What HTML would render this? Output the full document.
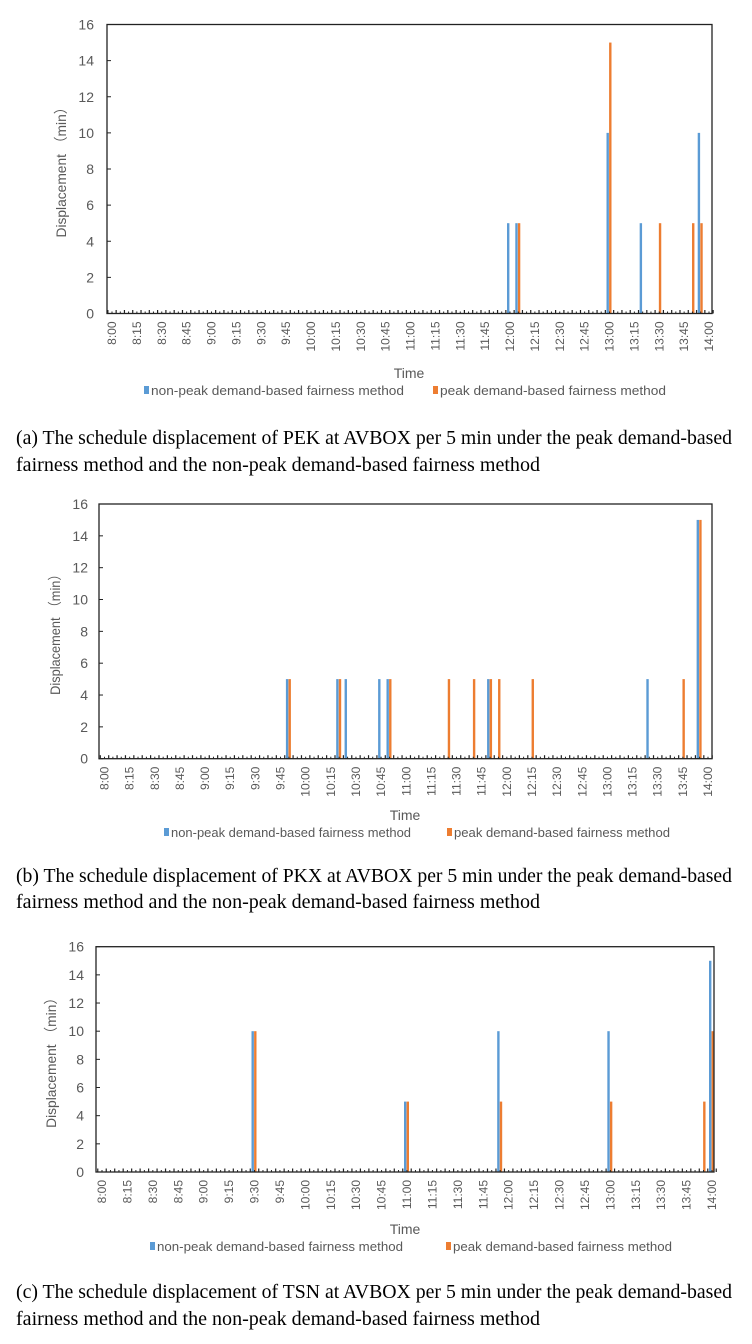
<!DOCTYPE html>
<html><head><meta charset="utf-8"><style>
html,body{margin:0;padding:0;background:#fff;}
svg{display:block;}
</style></head><body>
<svg id="s" width="752" height="1344" xmlns="http://www.w3.org/2000/svg" font-family="Liberation Sans, sans-serif">
<rect width="752" height="1344" fill="#fff"/>
<g font-family="Liberation Serif, serif" font-size="20" fill="#000">
<text x="16" y="444" textLength="716" lengthAdjust="spacingAndGlyphs">(a) The schedule displacement of PEK at AVBOX per 5 min under the peak demand-based</text>
<text x="16" y="471" textLength="524" lengthAdjust="spacingAndGlyphs">fairness method and the non-peak demand-based fairness method</text>
<text x="16" y="882" textLength="716" lengthAdjust="spacingAndGlyphs">(b) The schedule displacement of PKX at AVBOX per 5 min under the peak demand-based</text>
<text x="16" y="908" textLength="524" lengthAdjust="spacingAndGlyphs">fairness method and the non-peak demand-based fairness method</text>
<text x="16" y="1298" textLength="716" lengthAdjust="spacingAndGlyphs">(c) The schedule displacement of TSN at AVBOX per 5 min under the peak demand-based</text>
<text x="16" y="1325" textLength="524" lengthAdjust="spacingAndGlyphs">fairness method and the non-peak demand-based fairness method</text>
</g>
</svg>
<script>
(function(){
var s=document.getElementById('s'),NS='http://www.w3.org/2000/svg';
function el(t,a,txt){var e=document.createElementNS(NS,t);for(var k in a)e.setAttribute(k,a[k]);if(txt!==undefined)e.textContent=txt;s.appendChild(e);return e;}
var BLUE='#5b9bd5',OR='#ed7d31',G='#595959';
function chart(c){
  var L=c.L,R=c.R,T=c.T,B=c.B,dx=(c.x14-c.x0)/72;
  function cx(i){return c.x0+i*dx;}
  function yv(v){return B-(B-T)*v/16;}
  for(var v=0;v<=16;v+=2){
    el('text',{x:c.yl,y:yv(v)+5,'text-anchor':'end','font-size':14,fill:G},String(v));
    el('line',{x1:L,x2:L+4,y1:yv(v),y2:yv(v),stroke:'#222','stroke-width':1});
  }
  el('text',{transform:'translate('+c.yt+','+((T+B)/2)+') rotate(-90)','text-anchor':'middle','font-size':14,fill:G,textLength:c.ytl,lengthAdjust:'spacingAndGlyphs'},'Displacement \uFF08min\uFF09');
  c.blue.forEach(function(d){var x=cx(d[0]);el('rect',{x:x-3,y:yv(d[1]),width:2.4,height:B-yv(d[1]),fill:BLUE});});
  c.or.forEach(function(d){var x=cx(d[0]);el('rect',{x:x-0.4,y:yv(d[1]),width:2.4,height:B-yv(d[1]),fill:OR});});
  for(var i=0;i<=73;i++){var x=c.x0-dx/2+i*dx;el('line',{x1:x,x2:x,y1:B,y2:B-3.5,stroke:'#222','stroke-width':1.2});}
  for(var i=0;i<73;i++){var x=cx(i);el('line',{x1:x,x2:x,y1:B,y2:B-2,stroke:'#222','stroke-width':1});}
  el('rect',{x:L,y:T,width:R-L,height:B-T,fill:'none',stroke:'#222','stroke-width':1.3});
  for(var k=0;k<=24;k++){
    var h=8+Math.floor(k/4),m=(k%4)*15;var t=h+':'+(m<10?'0':'')+m;
    var x=cx(k*3)+4;
    el('text',{transform:'translate('+x+','+(B+8)+') rotate(-90)','text-anchor':'end','font-size':12,fill:G},t);
  }
  el('text',{x:c.time[0],y:c.time[1],'text-anchor':'middle','font-size':14,fill:G},'Time');
  el('rect',{x:c.lg[0],y:c.lg[2]-9,width:5,height:8,fill:BLUE});
  el('text',{x:c.lg[0]+7,y:c.lg[2],'font-size':13,fill:G,textLength:c.lw[0],lengthAdjust:'spacingAndGlyphs'},'non-peak demand-based fairness method');
  el('rect',{x:c.lg[1],y:c.lg[2]-9,width:5,height:8,fill:OR});
  el('text',{x:c.lg[1]+7,y:c.lg[2],'font-size':13,fill:G,textLength:c.lw[1],lengthAdjust:'spacingAndGlyphs'},'peak demand-based fairness method');
}
chart({L:107,R:712,T:24.5,B:313.5,x0:112,x14:709,yl:94,yt:66,ytl:137,time:[409,378],lg:[144,433,395],lw:[253,226],
 blue:[[48,5],[49,5],[60,10],[64,5],[71,10]],or:[[49,5],[60,15],[66,5],[70,5],[71,5]]});
chart({L:99,R:712,T:504,B:758.7,x0:104.5,x14:708,yl:88,yt:60,ytl:127,time:[405,820],lg:[164,447,837],lw:[240,216],
 blue:[[22,5],[28,5],[29,5],[33,5],[34,5],[46,5],[65,5],[71,15]],or:[[22,5],[28,5],[34,5],[41,5],[44,5],[46,5],[47,5],[51,5],[69,5],[71,15]]});
chart({L:96,R:714,T:946.7,B:1172,x0:102,x14:712,yl:84,yt:56,ytl:137,time:[405,1234],lg:[150,446,1251],lw:[246,219],
 blue:[[18,10],[36,5],[47,10],[60,10],[72,15]],or:[[18,10],[36,5],[47,5],[60,5],[71,5],[72,10]]});
})();
</script>
</body></html>
